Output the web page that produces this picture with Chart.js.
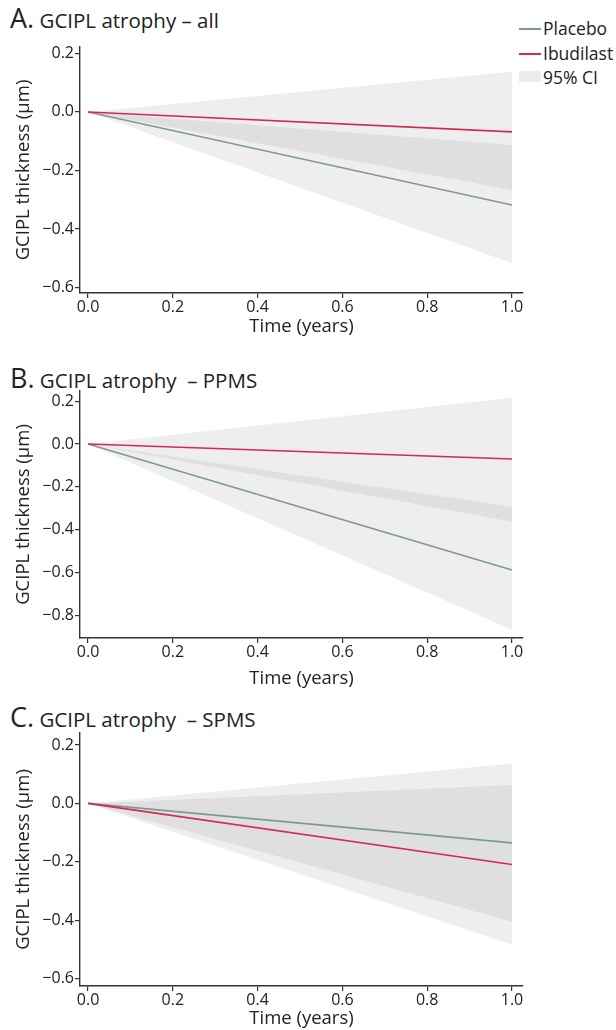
<!DOCTYPE html>
<html>
<head>
<meta charset="utf-8">
<script src="https://cdn.jsdelivr.net/npm/chart.js@4/dist/chart.umd.min.js"></script>
<style>
  body { margin: 0; background: #fff; font-family: "Open Sans", sans-serif; color: #222; }
  #page { position: relative; width: 616px; height: 1030px; overflow: hidden; }
  .panel { position: absolute; left: 0; width: 616px; }
  .title { position: absolute; left: 10px; font-size: 20.5px; white-space: pre; line-height: 1; }
  .title b { font-weight: normal; font-size: 27px; }
  #legend { position: absolute; left: 519px; top: 16px; font-size: 17.5px; }
  #legend div { position: relative; height: 24.5px; line-height: 24px; padding-left: 24px; }
  #legend i { position: absolute; left: 0; top: 12px; width: 22px; height: 2px; }
  #legend i.box { top: 6px; height: 11px; background: #ececec; }
</style>
</head>
<body>
<div id="page">
  <div class="title" style="top:4px"><b>A.</b> GCIPL atrophy – all</div>
  <div class="title" style="top:364px"><b>B.</b> GCIPL atrophy  – PPMS</div>
  <div class="title" style="top:703px"><b>C.</b> GCIPL atrophy  – SPMS</div>
  <div id="legend">
    <div><i style="background:#7d9a90"></i>Placebo</div>
    <div><i style="background:#d42a4c"></i>Ibudilast</div>
    <div><i class="box"></i>95% CI</div>
  </div>
  <div class="panel" style="top:0px;height:340px"><canvas id="chartA"></canvas></div>
  <div class="panel" style="top:345px;height:345px"><canvas id="chartB"></canvas></div>
  <div class="panel" style="top:690px;height:340px"><canvas id="chartC"></canvas></div>
</div>
<script>
// DATA (time in years, thickness change in µm)
const time = [0, 1];
const xTicks = [0, 0.2, 0.4, 0.6, 0.8, 1.0];

// A. all
const placeboA = [0, -0.318];
const placeboLoA = [0, -0.517];
const placeboHiA = [0, -0.113];
const ibudilastA = [0, -0.068];
const ibudilastLoA = [0, -0.267];
const ibudilastHiA = [0, 0.137];
const yTicksA = [0.2, 0, -0.2, -0.4, -0.6];

// B. PPMS
const placeboB = [0, -0.589];
const placeboLoB = [0, -0.869];
const placeboHiB = [0, -0.293];
const ibudilastB = [0, -0.070];
const ibudilastLoB = [0, -0.363];
const ibudilastHiB = [0, 0.216];
const yTicksB = [0.2, 0, -0.2, -0.4, -0.6, -0.8];

// C. SPMS
const placeboC = [0, -0.135];
const placeboLoC = [0, -0.405];
const placeboHiC = [0, 0.137];
const ibudilastC = [0, -0.209];
const ibudilastLoC = [0, -0.484];
const ibudilastHiC = [0, 0.063];
const yTicksC = [0.2, 0, -0.2, -0.4, -0.6];

const PLACEBO = "#7d9a90";
const IBUDILAST = "#d42a4c";
const BAND = "rgba(0, 0, 0, 0.068)";
const AXIS = "#333";

Chart.defaults.font.family = "'Open Sans', sans-serif";
Chart.defaults.color = "#222";

const pts = (arr) => time.map((t, i) => ({ x: t, y: arr[i] }));
const fmt = (v) => (v < 0 ? "\u2212" : "") + Math.abs(v).toFixed(1);

function makeChart(id, d, opts) {
    const band = (hi, lo) => [
        { data: pts(hi), fill: "+1", backgroundColor: BAND, borderWidth: 0, pointRadius: 0 },
        { data: pts(lo), fill: false, borderWidth: 0, pointRadius: 0 },
    ];
    return new Chart(document.getElementById(id), {
        type: "line",
        data: {
            datasets: [
                { data: pts(d.ibu), borderColor: IBUDILAST, borderWidth: 1.6, pointRadius: 0, fill: false },
                { data: pts(d.pla), borderColor: PLACEBO, borderWidth: 1.6, pointRadius: 0, fill: false },
                ...band(d.ibuHi, d.ibuLo),
                ...band(d.plaHi, d.plaLo),
            ],
        },
        options: {
            responsive: true,
            maintainAspectRatio: false,
            animation: false,
            layout: { padding: { top: opts.top, right: 93, left: 0, bottom: 0 } },
            plugins: {
                legend: { display: false },
                tooltip: { enabled: false },
                filler: { drawTime: "beforeDatasetsDraw" },
            },
            scales: {
                x: {
                    type: "linear",
                    min: -0.019,
                    max: 1.026,
                    afterBuildTicks: (s) => { s.ticks = xTicks.map((v) => ({ value: v })); },
                    afterFit: (s) => { s.height = opts.xh; },
                    ticks: { callback: fmt, font: { size: 16 }, padding: 0, maxRotation: 0 },
                    grid: { drawOnChartArea: false, tickLength: 5, color: AXIS, lineWidth: 1.2 },
                    border: { color: AXIS, width: 1.4 },
                    title: { display: true, text: "Time (years)", font: { size: 18.5 }, padding: { top: 0, bottom: opts.xpad } },
                },
                y: {
                    min: opts.ymin,
                    max: opts.ymax,
                    afterBuildTicks: (s) => { s.ticks = opts.yTicks.map((v) => ({ value: v })); },
                    afterFit: (s) => { s.width = 80; },
                    ticks: { callback: fmt, font: { size: 16 }, padding: 1 },
                    grid: { drawOnChartArea: false, tickLength: 5, color: AXIS, lineWidth: 1.2 },
                    border: { color: AXIS, width: 1.4 },
                    title: { display: true, text: "GCIPL thickness (µm)", font: { size: 18.5 }, padding: { top: 13, bottom: 0 } },
                },
            },
        },
    });
}

makeChart("chartA",
    { pla: placeboA, plaLo: placeboLoA, plaHi: placeboHiA, ibu: ibudilastA, ibuLo: ibudilastLoA, ibuHi: ibudilastHiA },
    { top: 47, xh: 47, xpad: 2, ymin: -0.619, ymax: 0.222, yTicks: yTicksA });
makeChart("chartB",
    { pla: placeboB, plaLo: placeboLoB, plaHi: placeboHiB, ibu: ibudilastB, ibuLo: ibudilastLoB, ibuHi: ibudilastHiB },
    { top: 46, xh: 52, xpad: 0, ymin: -0.907, ymax: 0.248, yTicks: yTicksB });
makeChart("chartC",
    { pla: placeboC, plaLo: placeboLoC, plaHi: placeboHiC, ibu: ibudilastC, ibuLo: ibudilastLoC, ibuHi: ibudilastHiC },
    { top: 43, xh: 44, xpad: 0, ymin: -0.625, ymax: 0.241, yTicks: yTicksC });
</script>
</body>
</html>
